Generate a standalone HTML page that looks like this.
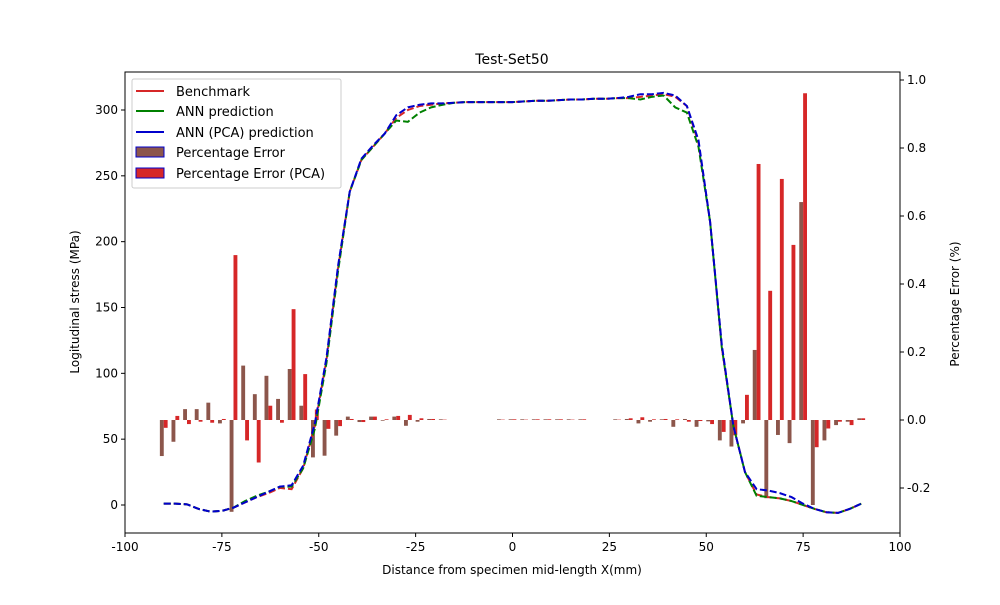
<!DOCTYPE html>
<html><head><meta charset="utf-8"><style>
body{margin:0;background:#fff;font-family:"Liberation Sans","DejaVu Sans",sans-serif}
text{font-family:"DejaVu Sans","Liberation Sans",sans-serif}
</style></head><body>
<svg id="chart" width="1000" height="600" xmlns="http://www.w3.org/2000/svg">
<rect width="1000" height="600" fill="#fff"/>
<g id="bars"></g>
<g id="lines"></g>
<rect x="125" y="72" width="775" height="461" fill="none" stroke="#000" stroke-width="1"/>
<g id="axes" font-size="12"></g>
<text x="512" y="64" text-anchor="middle" font-size="14">Test-Set50</text>
<text x="512" y="574" text-anchor="middle" font-size="12">Distance from specimen mid-length X(mm)</text>
<text transform="translate(79,302) rotate(-90)" text-anchor="middle" font-size="12">Logitudinal stress (MPa)</text>
<text transform="translate(959,304) rotate(-90)" text-anchor="middle" font-size="12">Percentage Error (%)</text>
<g font-size="13">
<rect x="132" y="79" width="209" height="109" fill="#fff" fill-opacity="0.8" stroke="#ccc" rx="2"/>
<g><line x1="136" y1="91" x2="164" y2="91" stroke="#d62728" stroke-width="2"/><text x="176" y="96">Benchmark</text></g>
<g><line x1="136" y1="111" x2="164" y2="111" stroke="green" stroke-width="2"/><text x="176" y="116">ANN prediction</text></g>
<g><line x1="136" y1="132" x2="164" y2="132" stroke="#0000cc" stroke-width="2"/><text x="176" y="137">ANN (PCA) prediction</text></g>
<g><rect x="136" y="147" width="28" height="10" fill="#8c564b" stroke="#0000cc"/><text x="176" y="157">Percentage Error</text></g>
<g><rect x="136" y="168" width="28" height="10" fill="#d62728" stroke="#0000cc"/><text x="176" y="178">Percentage Error (PCA)</text></g>
</g>
</svg>
<script>
const xs=[-90,-87,-84,-81,-78,-75,-72,-69,-66,-63,-60,-57,-54,-51,-48,-45,-42,-39,-36,-33,-30,-27,-24,-21,-18,-15,-12,-9,-6,-3,0,3,6,9,12,15,18,21,24,27,30,33,36,39,42,45,48,51,54,57,60,63,66,69,72,75,78,81,84,87,90];
const errANN=[-0.106,-0.064,0.032,0.032,0.051,-0.01,-0.27,0.16,0.076,0.13,0.062,0.15,0.042,-0.11,-0.105,-0.046,0.01,-0.006,0.01,-0.002,0.01,-0.017,-0.005,0.003,0.002,0,0,0,0,0.002,0.002,0.002,0.002,0.002,0.002,0.002,0.002,0,0,0.002,0.003,-0.01,-0.005,0.002,-0.02,0.003,-0.02,-0.004,-0.06,-0.078,-0.01,0.206,-0.23,-0.044,-0.068,0.641,-0.25,-0.06,-0.015,-0.005,0.005];
const errPCA=[-0.023,0.012,-0.012,-0.005,-0.008,0.003,0.485,-0.06,-0.125,0.042,-0.008,0.326,0.135,0.031,-0.026,-0.018,0.003,-0.006,0.01,0.002,0.012,0.015,0.005,0.003,0.001,0,0,0,0,0.001,0.002,0.001,0.002,0.002,0.002,0.001,0.002,0,0,0.001,0.005,0.008,0.002,0.003,0.002,-0.005,-0.003,-0.012,-0.035,-0.045,0.074,0.753,0.38,0.709,0.515,0.961,-0.08,-0.025,-0.005,-0.015,0.005];
const bench=[1,1,0.5,-3,-5,-4.5,-2,2,6,9,13,12,28,60,110,180,238,262,272,282,294,300,303,304,305,305.5,306,306,306,306,306,306.5,307,307,307.5,308,308,308.5,308.5,309,309,310,311,312,310,303,275,215,120,60,25,8,6,5,3,0,-3,-5.5,-6,-3,1];
const ann=[1,1,0.5,-3,-5,-4.5,-2,3,7,10,14,14,28,58,108,178,238,262,272,282,292,291,298,302,304,305.5,306,306,306,306,306,306.5,307,307,307.5,308,308,308.5,308.5,309,309,308,310,311,302,298,272,215,120,60,25,7,6,5,3,0,-3,-5.5,-6,-3,1];
const pca=[1,1,0.5,-3,-5,-4.5,-2,2,6,10,14,15,30,62,112,182,238,263,273,282,296,302,304,305,305,305.5,306,306,306,306,306,306.5,307,307,307.5,308,308,308.5,308.5,309,310,312,312,313,311,303,277,215,122,60,25,12,11,9,6,1,-3,-5.5,-6,-3,1];
const xTicks=[-100,-75,-50,-25,0,25,50,75,100];
const yTicks=[0,50,100,150,200,250,300];
const y2Ticks=[-0.2,0,0.2,0.4,0.6,0.8,1.0];
const NS='http://www.w3.org/2000/svg';
const X=v=>125+(v+100)*3.875;
const Y=v=>505-v*1.3167;
const Y2=v=>420-v*340;
function mk(t,a,p){const e=document.createElementNS(NS,t);for(const k in a)e.setAttribute(k,a[k]);p.appendChild(e);return e;}
const bars=document.getElementById('bars');
xs.forEach((x,i)=>{
  const w=3.875;
  let v=errANN[i];
  let r=mk('rect',{x:X(x)-w,y:Math.min(Y2(v),420),width:w,height:Math.abs(Y2(v)-420),fill:'#8c564b'},bars);
  
  
  v=errPCA[i];
  r=mk('rect',{x:X(x),y:Math.min(Y2(v),420),width:w,height:Math.abs(Y2(v)-420),fill:'#d62728'},bars);
  
  
});
const lines=document.getElementById('lines');
[[bench,'#d62728','benchmark-line'],[ann,'green','ann-line'],[pca,'#0000cc','ann-pca-line']].forEach(([d,c,n])=>{
  const p=mk('polyline',{points:xs.map((x,i)=>X(x)+','+Y(d[i])).join(' '),fill:'none',stroke:c,'stroke-width':2,'stroke-dasharray':'7,3'},lines);
  
  
});
const ax=document.getElementById('axes');
xTicks.forEach(t=>{mk('line',{x1:X(t),x2:X(t),y1:533,y2:537,stroke:'#000'},ax);const e=mk('text',{x:X(t),y:551,'text-anchor':'middle'},ax);e.textContent=t;});
yTicks.forEach(t=>{mk('line',{x1:121,x2:125,y1:Y(t),y2:Y(t),stroke:'#000'},ax);const e=mk('text',{x:118,y:Y(t)+4,'text-anchor':'end'},ax);e.textContent=t;});
y2Ticks.forEach(t=>{mk('line',{x1:900,x2:904,y1:Y2(t),y2:Y2(t),stroke:'#000'},ax);const e=mk('text',{x:907,y:Y2(t)+4},ax);e.textContent=t.toFixed(1);});
</script>
</body></html>
